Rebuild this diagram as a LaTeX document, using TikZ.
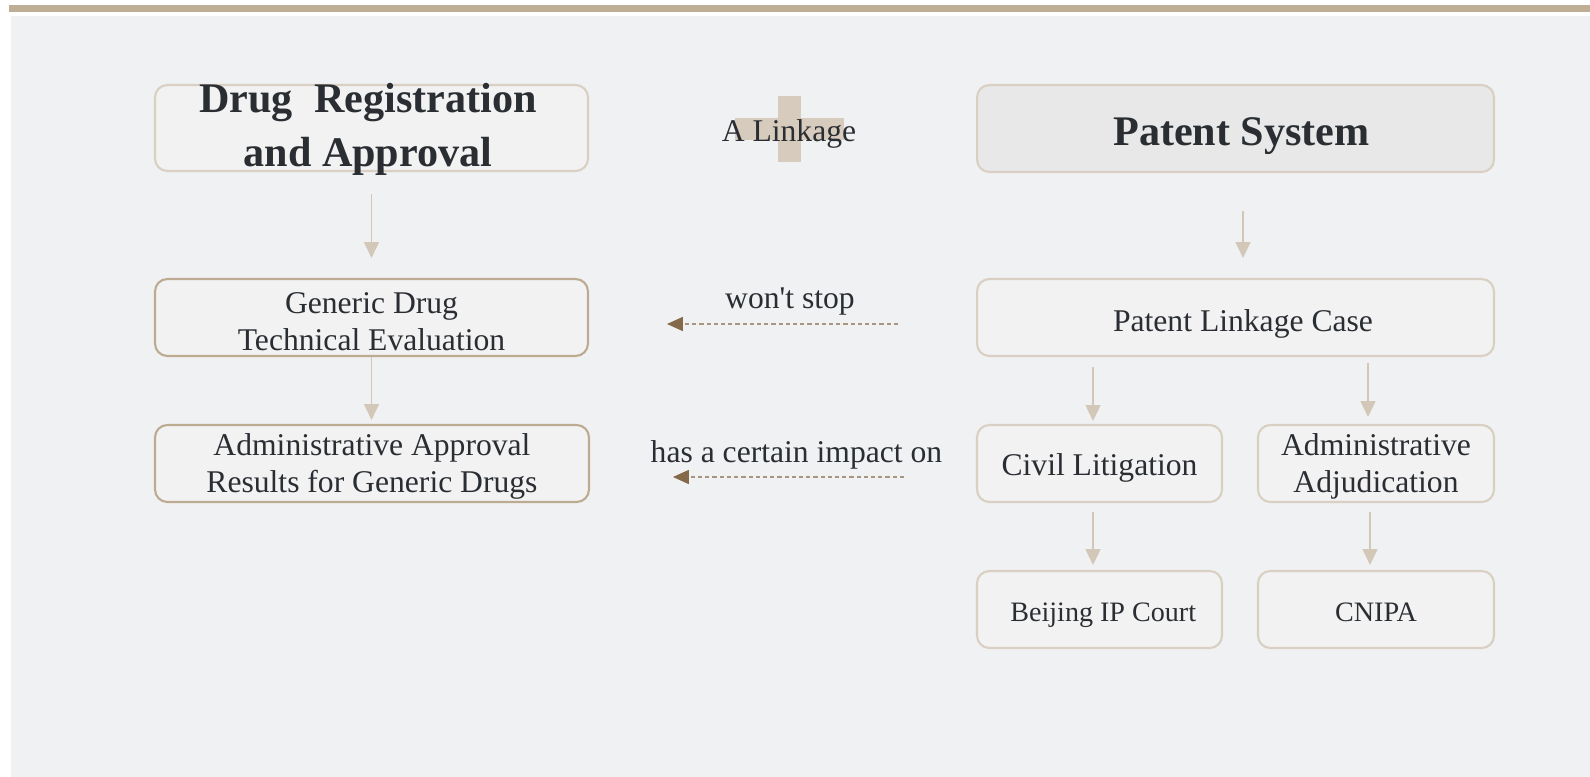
\documentclass[tikz,border=0pt]{standalone}
\usepackage{fontspec}
\setmainfont{Liberation Serif}
\usepackage{tikz}
\usetikzlibrary{arrows.meta, calc}

\definecolor{bartan}{HTML}{BFAE96}
\definecolor{pagebg}{HTML}{F0F1F3}
\definecolor{boxfill}{HTML}{F2F2F2}
\definecolor{headfill}{HTML}{E8E8E8}
\definecolor{lightline}{HTML}{D9CFC2}
\definecolor{darkline}{HTML}{BDAB91}
\definecolor{plustan}{HTML}{D6CBBC}
\definecolor{flowtan}{HTML}{D3C7B8}
\definecolor{dashline}{HTML}{A89580}
\definecolor{dashhead}{HTML}{85694B}
\definecolor{ink}{HTML}{2A2E33}

\begin{document}
\begin{tikzpicture}[x=0.02cm, y=-0.02cm,
    box/.style={draw=lightline, line width=1.2pt, rounded corners=7pt, fill=boxfill,
        text=ink, align=center, inner sep=0pt, font=\fontsize{18}{21}\selectfont},
    oneline/.style={text height=15.5pt, text depth=0pt},
    boxtext/.style={text=ink, align=center, inner sep=0pt, font=\fontsize{18}{21}\selectfont},
    flow/.style={draw=flowtan, line width=0.8pt, -{Triangle[width=8.5pt,length=9pt]}},
    linkarrow/.style={draw=dashline, line width=0.6pt, dash pattern=on 2.4pt off 1.7pt,
        -{Triangle[width=8pt,length=9pt,fill=dashhead,color=dashhead]}},
    lbl/.style={text=ink, font=\fontsize{18}{21}\selectfont}]
    \useasboundingbox (0,0) rectangle (1590,777);

    % background and top bar
    \fill[pagebg] (11,16) rectangle (1590,777);
    \fill[bartan] (9,5) rectangle (1590,12);

    % left column
    \node[box, minimum width=8.66cm, minimum height=1.72cm] (drug) at (371.5,128) {};
    \node[text=ink, align=center, font=\fontsize{24}{30.6}\bfseries] (drugtxt) at (368,129.5)
        {Drug~~Registration\\and Approval};
    \node[box, draw=darkline, minimum width=8.66cm, minimum height=1.54cm] (generic) at (371.5,317.5) {};
    \node[boxtext] (generictxt) at (371.5,322) {Generic Drug\\Technical Evaluation};
    \node[box, draw=darkline, minimum width=8.68cm, minimum height=1.54cm] (admin) at (372,463.5) {};
    \node[boxtext] (admintxt) at (372,466.5) {Administrative Approval\\Results for Generic Drugs};

    % linkage sign
    \fill[plustan] (735,118) rectangle (844,140);
    \fill[plustan] (778,96) rectangle (801,162);
    \node[lbl] (linkage) at (789,134) {A Linkage};

    % right column
    \node[box, fill=headfill, minimum width=10.34cm, minimum height=1.74cm, text height=19pt, text depth=0pt,
        font=\fontsize{24}{28}\bfseries] (patent) at (1235.5,128.5) {\hspace*{0.24cm}Patent System};
    \node[box, oneline, text height=16.4pt, minimum width=10.34cm, minimum height=1.54cm] (linkcase) at (1235.5,317.5)
        {\hspace*{0.3cm}Patent Linkage Case};
    \node[box, oneline, text height=14pt, minimum width=4.9cm, minimum height=1.54cm] (civil) at (1099.5,463.5)
        {Civil Litigation};
    \node[box, minimum width=4.72cm, minimum height=1.54cm] (adjud) at (1376,463.5) {};
    \node[boxtext] (adjudtxt) at (1376,466.5) {Administrative\\Adjudication};
    \node[box, oneline, text height=14pt, minimum width=4.9cm, minimum height=1.54cm, font=\fontsize{16}{19}\selectfont]
        (court) at (1099.5,609.5) {\hspace*{0.15cm}Beijing IP Court};
    \node[box, oneline, text height=14pt, minimum width=4.72cm, minimum height=1.54cm, font=\fontsize{16}{19}\selectfont]
        (cnipa) at (1376,609.5) {CNIPA};

    % arrows
    \draw[flow, shorten <=0.44cm, shorten >=0.4cm] (drug.south) -- (generic.north);
    \draw[flow, shorten >=0.08cm] (generic.south) -- (generic.south |- admin.north);
    \draw[flow, shorten <=0.76cm, shorten >=0.4cm] ($(patent.south)+(7.5,0)$) -- ($(linkcase.north)+(7.5,0)$);
    \draw[flow, shorten <=0.2cm, shorten >=0.06cm] ($(civil.north |- linkcase.south)+(-6.5,0)$) -- ($(civil.north)+(-6.5,0)$);
    \draw[flow, shorten <=0.12cm, shorten >=0.14cm] ($(adjud.north |- linkcase.south)+(-8,0)$) -- ($(adjud.north)+(-8,0)$);
    \draw[flow, shorten <=0.18cm, shorten >=0.1cm] ($(civil.south)+(-6.5,0)$) -- ($(court.north)+(-6.5,0)$);
    \draw[flow, shorten <=0.18cm, shorten >=0.1cm] ($(adjud.south)+(-6,0)$) -- ($(cnipa.north)+(-6,0)$);

    % links between the two systems
    \draw[linkarrow, shorten <=1.56cm, shorten >=1.56cm] ([yshift=-0.13cm]linkcase.west)
        -- node[lbl, yshift=0.44cm, xshift=0.15cm] (stoplbl) {won\textquotesingle t stop} ([yshift=-0.13cm]generic.east);
    \draw[linkarrow, shorten <=1.44cm, shorten >=1.66cm] ([yshift=-0.27cm]civil.west)
        -- node[lbl, yshift=0.44cm, xshift=0.27cm] (impactlbl) {has a certain impact on} ([yshift=-0.27cm]admin.east);
\end{tikzpicture}
\end{document}
